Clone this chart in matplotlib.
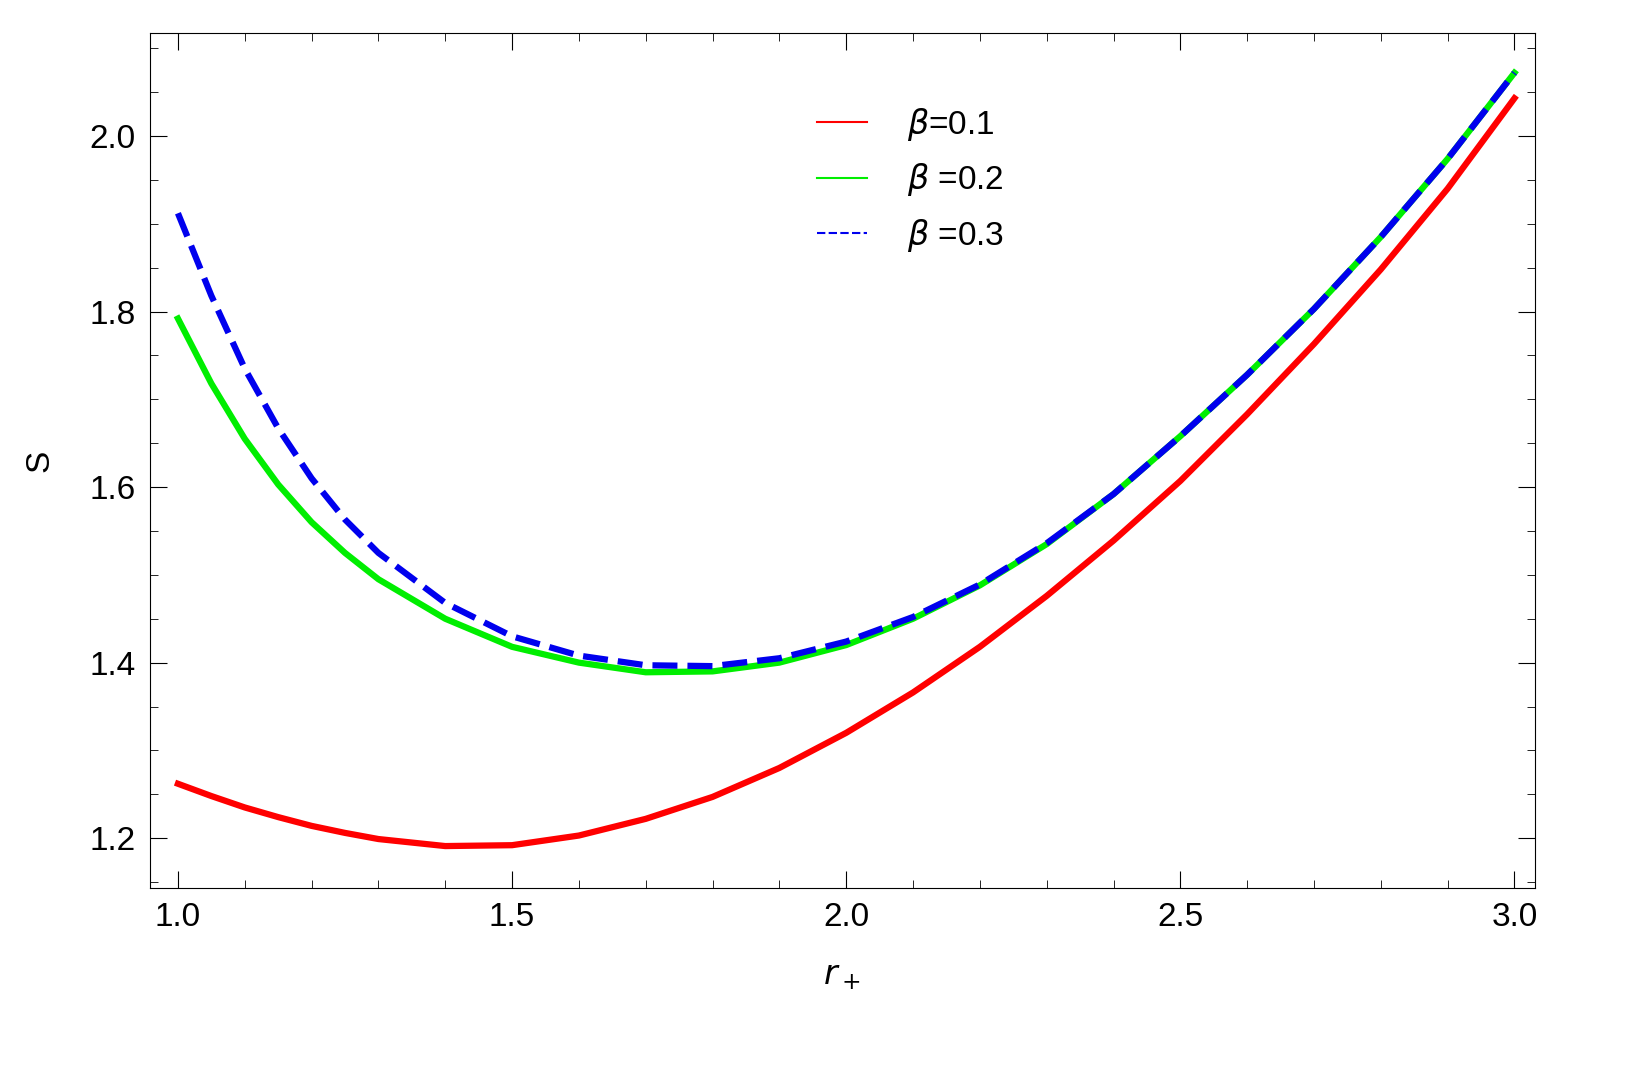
import numpy as np
import matplotlib.pyplot as plt
from matplotlib.ticker import MultipleLocator

plt.rcParams['font.family'] = ['Liberation Sans', 'DejaVu Sans']
plt.rcParams['mathtext.fontset'] = 'dejavusans'

r = [1.0, 1.05, 1.1, 1.15, 1.2, 1.25, 1.3, 1.4, 1.5, 1.6, 1.7, 1.8, 1.9, 2.0,
     2.1, 2.2, 2.3, 2.4, 2.5, 2.6, 2.7, 2.8, 2.9, 3.0]
s_b01 = [1.262, 1.248, 1.235, 1.224, 1.214, 1.206, 1.199, 1.191, 1.192, 1.203, 1.222,
         1.247, 1.280, 1.320, 1.366, 1.418, 1.476, 1.539, 1.607, 1.683, 1.763, 1.848,
         1.940, 2.043]
s_b02 = [1.792, 1.718, 1.655, 1.603, 1.560, 1.525, 1.495, 1.450, 1.418, 1.400, 1.389,
         1.390, 1.400, 1.420, 1.450, 1.488, 1.535, 1.592, 1.658, 1.728, 1.803, 1.885,
         1.974, 2.072]
s_b03 = [1.912, 1.818, 1.735, 1.667, 1.610, 1.563, 1.525, 1.468, 1.430, 1.408, 1.397,
         1.396, 1.405, 1.424, 1.452, 1.489, 1.536, 1.592, 1.658, 1.728, 1.803, 1.885,
         1.974, 2.072]
labels = [r'$\beta$=0.1', r'$\beta$ =0.2', r'$\beta$ =0.3']

fig = plt.figure(figsize=(16.29, 10.74), dpi=100)
ax = fig.add_axes([0.092, 0.173, 0.850, 0.796])
ax.plot(r, s_b01, color='#ff0000', lw=4.5, label=labels[0], solid_joinstyle='round')
ax.plot(r, s_b02, color='#00ee00', lw=4.5, label=labels[1], solid_joinstyle='round')
ax.plot(r, s_b03, color='#0000ee', lw=4.5, ls=(0, (4, 1.6)), label=labels[2])

ax.set_xlim(0.958, 3.03)
ax.set_ylim(1.143, 2.117)
ax.xaxis.set_major_locator(MultipleLocator(0.5))
ax.xaxis.set_minor_locator(MultipleLocator(0.1))
ax.yaxis.set_major_locator(MultipleLocator(0.2))
ax.yaxis.set_minor_locator(MultipleLocator(0.05))
ax.tick_params(which='both', direction='in', top=True, right=True, labelsize=24, pad=10)
ax.tick_params(which='major', length=12)
ax.tick_params(which='minor', length=6)
ax.set_xlabel(r'$r_+$', fontsize=24, labelpad=20)
ax.set_ylabel('S', fontsize=24, labelpad=25)

leg = ax.legend(loc='upper left', bbox_to_anchor=(0.46, 0.95), frameon=False, fontsize=24,
                handlelength=1.5, handletextpad=1.2, labelspacing=0.55)
for h in leg.get_lines():
    h.set_linewidth(1.5)

fig.savefig('out.png', dpi=100)
